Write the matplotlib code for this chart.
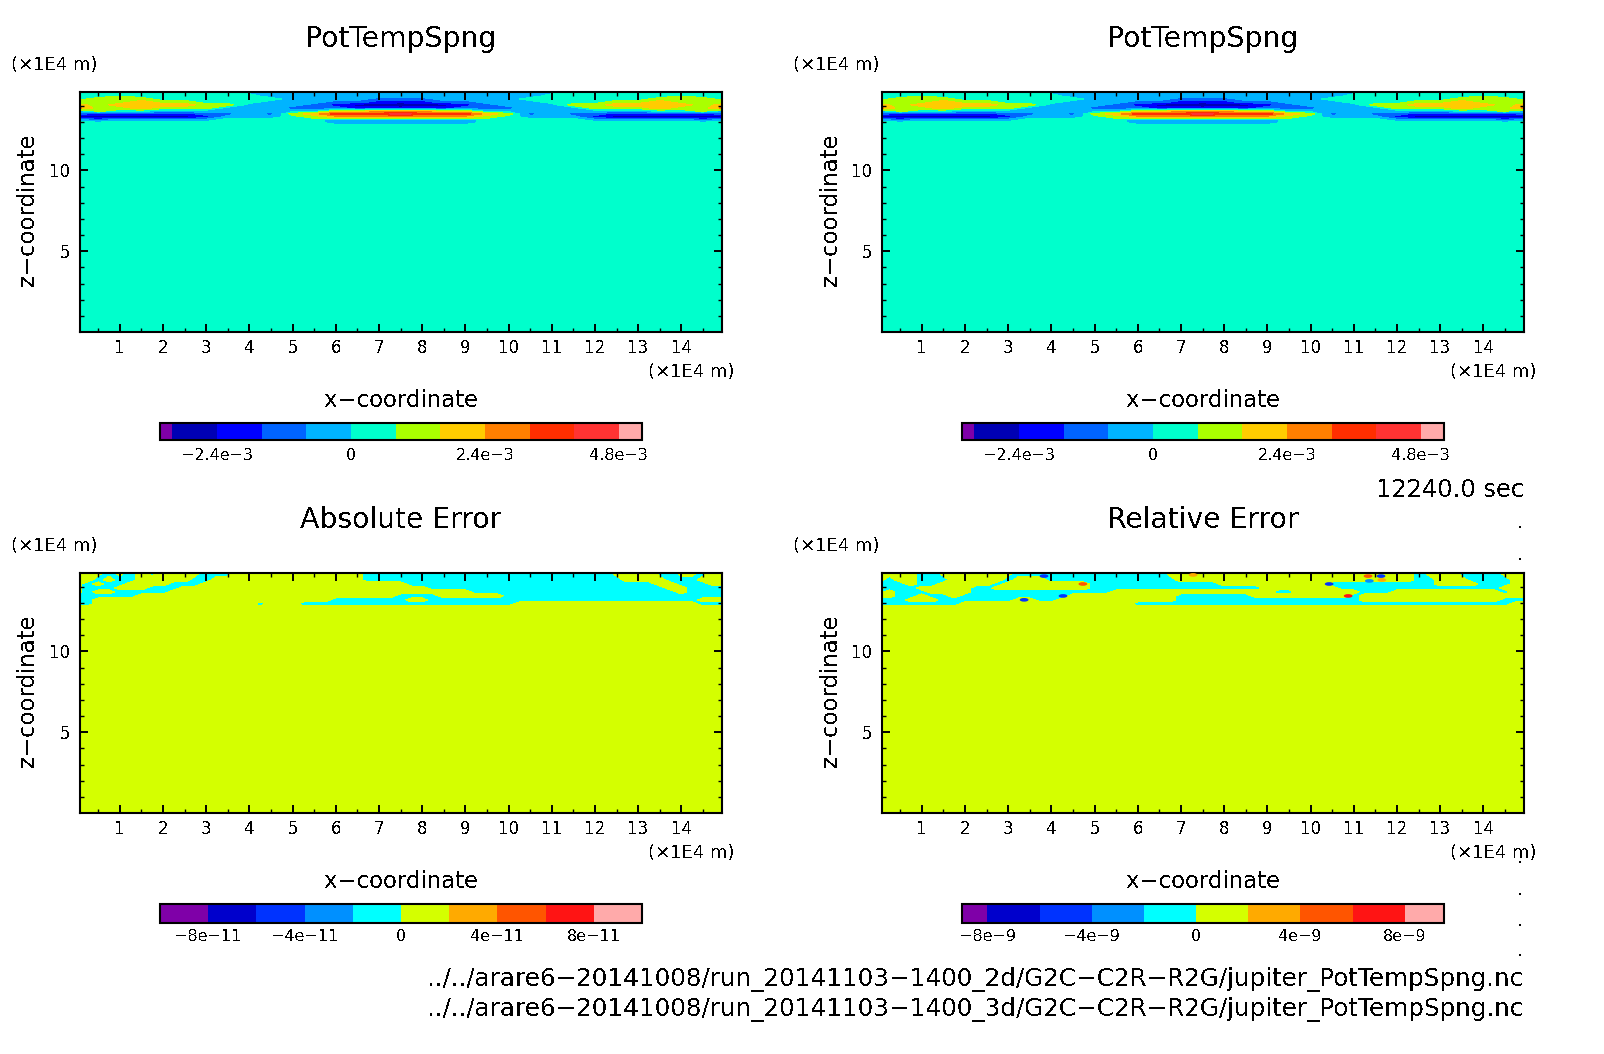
import numpy as np
import matplotlib
matplotlib.use("Agg")
import matplotlib.pyplot as plt
from matplotlib.colors import BoundaryNorm, ListedColormap
from matplotlib.cm import ScalarMappable
from matplotlib.path import Path
from matplotlib.transforms import Affine2D

plt.rcParams['text.antialiased'] = False

# PotTempSpng field (1e-3), x = 0 .. 7.5, the picture is mirrored about x = 7.5
pot_x = [0, .5, 1, 1.5, 2, 2.5, 3, 3.5, 4, 4.5, 5, 5.5, 6, 6.5, 7, 7.5]
pot_z = [14.9, 14.61, 14.43, 14.24, 14.06, 13.87, 13.69, 13.50, 13.32, 13.13, 12.95, 12.76, 0.0]
pot_rows = [
    [.4, .4, .4, .4, .4, .4, .4, -.4, -.4, -.4, -.4, -.4, -.4, -.4, -.4, -.4],
    [.4, .4, .8, .4, .4, .4, .4, .4, .4, -.4, -.4, -.4, -.4, -.4, -.4, -.4],
    [.4, 1.2, 1.2, 1.2, .4, .4, .4, .4, .4, .4, -.4, -.4, -.4, -.4, -1.2, -1.2],
    [1.2, 1.2, 1.2, 2, 1.2, 1.2, .4, .4, .4, -.4, -.4, -.4, -1.2, -1.2, -2, -2],
    [2, 1.2, 2, 2, 2, 2, 1.2, 1.2, -.4, -.4, -.4, -1.2, -2, -2.8, -2.8, -3.3],
    [2.8, 1.2, 1.2, 2, 1.2, 1.2, 1.2, -.4, -.4, -.4, -1.2, -1.2, -1.2, -2, -2, -2],
    [-.4, 1.2, .4, .4, -.4, -.4, -.4, -.4, -.4, -.4, -.4, -.4, 1.2, 1.2, 2, 2],
    [-1.2, -2, -2, -2, -2, -2, -1.2, -1.2, -.4, -1.2, 1.2, 2, 3.6, 3.6, 3.6, 4.4],
    [-2.8, -2.8, -2.8, -2.8, -2.8, -2.8, -2, -.4, -.4, -.4, .4, 1.2, 2, 2, 2, 2],
    [-.4, -1.2, -.4, -.4, -.4, -.4, -.4, .4, .4, .4, .4, .4, -.4, -.4, -.4, -.4],
    [.4, .4, .4, .4, .4, .4, .4, .4, .4, .4, .4, .4, -.4, -.4, -.4, -.4],
    [.4, .4, .4, .4, .4, .4, .4, .4, .4, .4, .4, .4, .4, .4, .4, .4],
    [.4, .4, .4, .4, .4, .4, .4, .4, .4, .4, .4, .4, .4, .4, .4, .4],
]

# sign of the error fields, one char per 0.25 in x, rows follow err_z
err_z = [14.9, 14.43, 14.18, 13.93, 13.69, 13.44, 13.19, 12.95, 12.70, 0.0]
abs_rows = [
    "+++-+-+-++++---++++++++++++---" "--------------------++++--++-++",
    "++-+--+++++--++++++++++++++---" "---------------------++++---+++",
    "+-+--++++---++++++++++++++++++" "+-----------------------++---++",
    "+---+++---++++++++++++++++++++" "+++----------------------++----",
    "+-++-----+++++++++++++++++++++" "+++++++-------------------+----",
    "------++++++++++++++++++++++++" "----++++++---------------------",
    "--++++++++++++++++++++++------" "-++-------------------------+++",
    "--+++++++++++++++-+++---------" "-----------+++++++++++++++++---",
    "+" * 61,
    "+" * 61,
]
rel_rows = [
    "++++--+++++++--------------+++++++++++++++++++++++-+++----+++",
    "+-++---+++++-+++------------++++++++++++++++++++++--+++----++",
    "---+--+++++-++++++++------------++++++++++----------++++---++",
    "+---+++++--+++++++++----------------+++++++---------------+++",
    "-+---++++-------------+++++++++++++++--++++++---++++++++++-++",
    "++--+--+----------++++++++++-------+++++++++-++++++++++++++++",
    "---+++-------++--+++++++++++-----------------+++++++++++++---",
    "--------++++++++++++++++-----------------------------------++",
    "+" * 61,
    "+" * 61,
]

# isolated spots in the relative error panel
spot_x = [3.83, 4.73, 4.27, 3.37, 7.28, 10.43, 10.87, 11.33, 11.63, 11.65, 11.36]
spot_z = [14.67, 14.18, 13.44, 13.2, 14.74, 14.18, 13.44, 14.67, 14.67, 14.43, 14.37]
spot_val = [-5e-9, 5e-9, -5e-9, -5e-9, 3e-9, -5e-9, 7e-9, 5e-9, -5e-9, 3e-9, -3e-9]

# colour bins
pot_bounds = [-3.42e-3, -3.2e-3, -2.4e-3, -1.6e-3, -.8e-3, 0, .8e-3, 1.6e-3, 2.4e-3, 3.2e-3, 4e-3, 4.8e-3, 5.21e-3]
pot_colors = ['#7f00a8', '#0000b4', '#0000ff', '#0064ff', '#00b4ff', '#00ffcc',
              '#aaff00', '#ffcc00', '#ff7f00', '#ff2e00', '#ff3333', '#ffaaaa']
abs_bounds = [-1e-10, -8e-11, -6e-11, -4e-11, -2e-11, 0, 2e-11, 4e-11, 6e-11, 8e-11, 1e-10]
rel_bounds = [-8.97e-9, -8e-9, -6e-9, -4e-9, -2e-9, 0, 2e-9, 4e-9, 6e-9, 8e-9, 9.5e-9]
err_colors = ['#7f00a8', '#0000cc', '#0033ff', '#0090ff', '#00ffff',
              '#d4ff00', '#ffaa00', '#ff5500', '#ff1414', '#ffaaaa']

pot_ticks = [-2.4e-3, 0, 2.4e-3, 4.8e-3]
pot_ticklabels = ['\u22122.4e\u22123', '0', '2.4e\u22123', '4.8e\u22123']
abs_ticks = [-8e-11, -4e-11, 0, 4e-11, 8e-11]
abs_ticklabels = ['\u22128e\u221211', '\u22124e\u221211', '0', '4e\u221211', '8e\u221211']
rel_ticks = [-8e-9, -4e-9, 0, 4e-9, 8e-9]
rel_ticklabels = ['\u22128e\u22129', '\u22124e\u22129', '0', '4e\u22129', '8e\u22129']

W, H = 1604, 1054
fig = plt.figure(figsize=(W / 100, H / 100), dpi=100)


def put_text(px, py, s, size, ha='center', rotation=0):
    fig.text(px / W, 1 - py / H, s, fontsize=size, ha=ha, va='center', rotation=rotation, color='black')


def px_axes(left, top, right, bottom):
    return fig.add_axes([left / W, 1 - bottom / H, (right - left) / W, (bottom - top) / H])


def draw_panel(left, top, title, x, z, field, bounds, colors, ticks, ticklabels, cb_top, cb_bottom, cb_pad, unit_x):
    ax = px_axes(left, top, left + 642, top + 240)
    ax.contourf(x, z, field, levels=bounds, colors=colors, antialiased=False)
    ax.set_xlim(0.08, 14.94)
    ax.set_ylim(0.0, 14.86)
    ax.set_xticks(range(1, 15))
    ax.set_xticks(np.arange(0.5, 15, 1), minor=True)
    ax.set_yticks([5, 10])
    ax.set_yticks([v for v in range(1, 15) if v not in (5, 10)], minor=True)
    ax.tick_params(which='major', direction='in', top=True, right=True, length=6, width=1.4, labelsize=12)
    ax.tick_params(axis='x', which='major', pad=5)
    ax.tick_params(axis='y', which='major', pad=7)
    ax.tick_params(which='minor', direction='in', top=True, right=True, length=3, width=1)
    for sp in ax.spines.values():
        sp.set_linewidth(1.5)

    mid = left + 321
    put_text(mid, top - 53, title, 20.3)
    put_text(unit_x, top - 27, '(\u00d71E4 m)', 13, ha='left')
    put_text(left + 655, top + 280, '(\u00d71E4 m)', 13, ha='right')
    put_text(mid, top + 309, 'x\u2212coordinate', 16.4)
    put_text(left - 52, top + 118, 'z\u2212coordinate', 16.4, rotation=90)

    cax = px_axes(left + 80, cb_top, left + 562, cb_bottom)
    norm = BoundaryNorm(bounds, len(colors))
    sm = ScalarMappable(norm=norm, cmap=ListedColormap(colors))
    cb = fig.colorbar(sm, cax=cax, orientation='horizontal', spacing='proportional', ticks=ticks)
    cb.set_ticklabels(ticklabels)
    cb.ax.tick_params(length=0, labelsize=11.5, pad=cb_pad)
    cb.ax.minorticks_off()
    cb.outline.set_linewidth(1.5)
    return ax


pot_half = np.array(pot_rows) * 1e-3
pot_field = np.hstack([pot_half, pot_half[:, -2::-1]])
pot_xs = np.concatenate([pot_x, 15 - np.array(pot_x[-2::-1])])

err_x = np.arange(61) * 0.25
abs_field = np.array([[1e-11 if c == '+' else -1e-11 for c in r.ljust(61, '+')] for r in abs_rows])
rel_field = np.array([[1e-9 if c == '+' else -1e-9 for c in r.ljust(61, '+')] for r in rel_rows])

draw_panel(80, 92, 'PotTempSpng', pot_xs, pot_z, pot_field, pot_bounds, pot_colors, pot_ticks, pot_ticklabels, 423, 440, 6, 11)
draw_panel(882, 92, 'PotTempSpng', pot_xs, pot_z, pot_field, pot_bounds, pot_colors, pot_ticks, pot_ticklabels, 423, 440, 6, 793)
draw_panel(80, 573, 'Absolute Error', err_x, err_z, abs_field, abs_bounds, err_colors, abs_ticks, abs_ticklabels, 904, 923, 4, 11)
ax4 = draw_panel(882, 573, 'Relative Error', err_x, err_z, rel_field, rel_bounds, err_colors, rel_ticks, rel_ticklabels, 904, 923, 4, 793)
blob = Path.unit_circle().transformed(Affine2D().scale(2.4, 1))
ax4.scatter(spot_x, spot_z, c=spot_val, cmap=ListedColormap(err_colors),
            norm=BoundaryNorm(rel_bounds, len(err_colors)), s=40, marker=blob, linewidths=0, zorder=3)

put_text(1524, 490, '12240.0 sec', 17.4, ha='right')
put_text(1524, 980, '../../arare6\u221220141008/run_20141103\u22121400_2d/G2C\u2212C2R\u2212R2G/jupiter_PotTempSpng.nc', 17.7, ha='right')
put_text(1524, 1010, '../../arare6\u221220141008/run_20141103\u22121400_3d/G2C\u2212C2R\u2212R2G/jupiter_PotTempSpng.nc', 17.7, ha='right')
for py in [523, 555, 858, 890, 921, 951]:
    put_text(1520, py, '.', 12)

fig.savefig('out.png', dpi=100)
